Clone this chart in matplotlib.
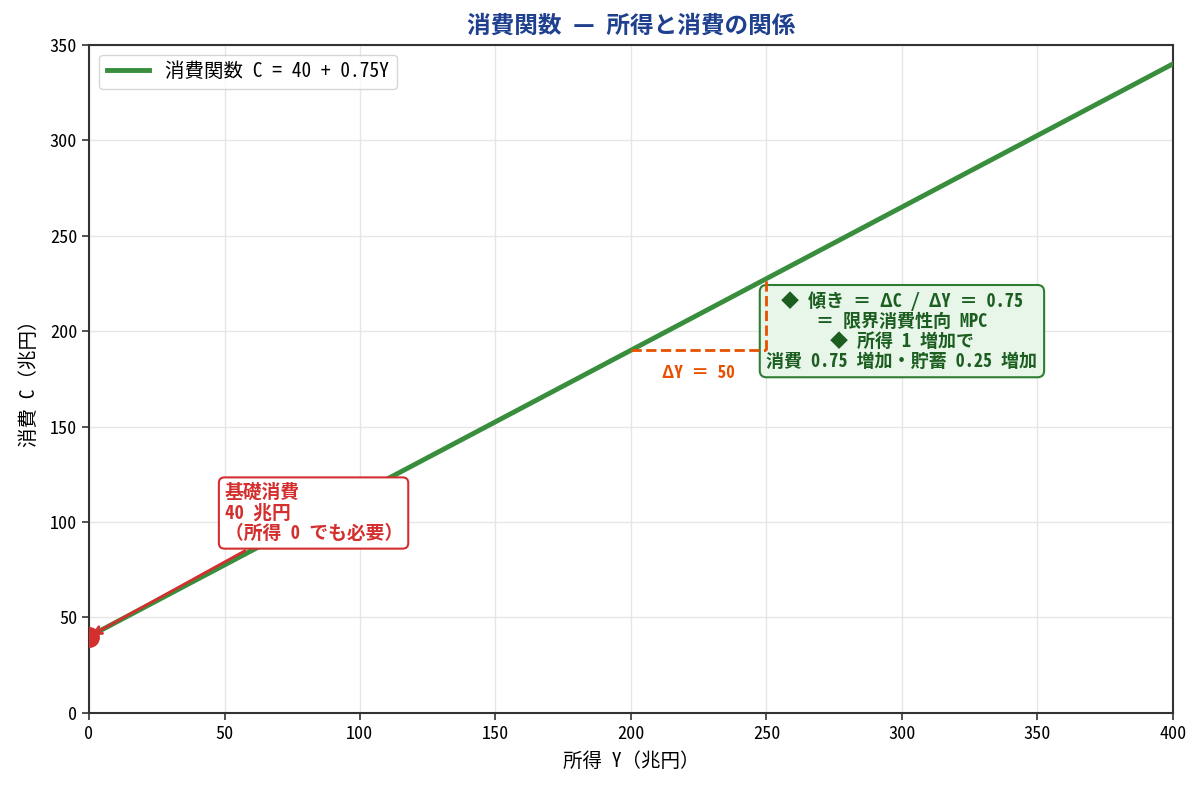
import matplotlib
matplotlib.use('Agg')
import matplotlib.pyplot as plt
import numpy as np

plt.rcParams['font.family'] = ['Noto Sans Mono CJK JP', 'Noto Sans CJK JP', 'DejaVu Sans']

# 消費関数 C = a + bY
a = 40
b = 0.75
income = np.array([0, 400])
consumption = a + b * income

# 傾きを示す区間
y0, y1 = 200, 250

fig, ax = plt.subplots(figsize=(12.03, 7.86), dpi=100)

ax.plot(income, consumption, color='#388e3c', lw=3.5, label='消費関数 C = 40 + 0.75Y', zorder=3)
ax.plot([0], [a], 'o', color='#d32f2f', ms=14, zorder=5)

c0 = a + b * y0
c1 = a + b * y1
ax.plot([y0, y1], [c0, c0], color='#e65100', ls='--', lw=2, zorder=4)
ax.plot([y1, y1], [c0, c1], color='#e65100', ls='--', lw=2, zorder=4)
ax.text((y0 + y1) / 2, c0 - 7.5, 'ΔY ＝ 50', color='#e65100', fontsize=12.5,
        fontweight='bold', ha='center', va='top')

ax.text(300, 200, '◆ 傾き ＝ ΔC / ΔY ＝ 0.75\n＝ 限界消費性向 MPC\n◆ 所得 1 増加で\n消費 0.75 増加・貯蓄 0.25 増加',
        ha='center', va='center', fontsize=13, fontweight='bold', color='#1b5e20',
        linespacing=1.05,
        bbox=dict(boxstyle='round,pad=0.37', fc='#e8f5e9', ec='#2e7d32', lw=1.5), zorder=3.5)

ax.annotate('基礎消費\n40 兆円\n（所得 0 でも必要）', xy=(0, a), xytext=(50, 89),
            fontsize=13.5, fontweight='bold', color='#d32f2f', ha='left', va='bottom',
            linespacing=1.1,
            bbox=dict(boxstyle='round,pad=0.3', fc='white', ec='#d32f2f', lw=1.5),
            arrowprops=dict(arrowstyle='->', color='#d32f2f', lw=2), zorder=6)

ax.set_xlim(0, 400)
ax.set_ylim(0, 350)
ax.set_xlabel('所得 Y（兆円）', fontsize=14, labelpad=7)
ax.set_ylabel('消費 C（兆円）', fontsize=14, labelpad=8)
ax.set_title('消費関数 — 所得と消費の関係', fontsize=17, fontweight='bold', color='#1f3f8f', pad=9)
ax.tick_params(labelsize=13, color='#333333', length=5, width=1.2)
for sp in ax.spines.values():
    sp.set_color('#333333')
    sp.set_linewidth(1.5)
ax.grid(True, color='#e6e6e6', lw=1)
ax.legend(loc='upper left', fontsize=14, handlelength=2.2)

fig.subplots_adjust(left=0.074, right=0.975, top=0.943, bottom=0.093)
plt.savefig('out.png', dpi=100)
plt.close()
